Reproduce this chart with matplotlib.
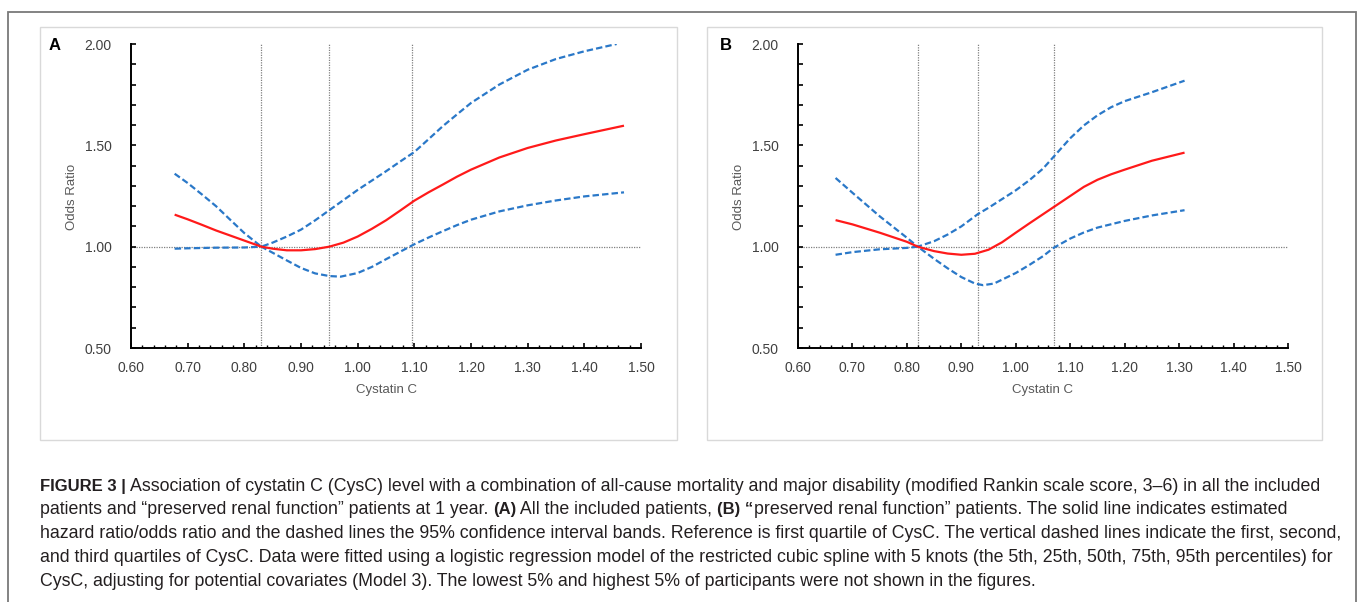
import matplotlib
matplotlib.use("Agg")
import matplotlib.pyplot as plt
from matplotlib.patches import Rectangle
from matplotlib.ticker import MultipleLocator, FormatStrFormatter

plt.rcParams['font.family'] = ['Liberation Sans', 'DejaVu Sans']

# ---------------- data ----------------
# Panel A: all included patients
a_x_est = [0.677, 0.70, 0.725, 0.75, 0.775, 0.80, 0.83, 0.85, 0.875, 0.90, 0.925, 0.95, 0.975,
           1.00, 1.025, 1.05, 1.075, 1.10, 1.125, 1.15, 1.175, 1.20, 1.25, 1.30, 1.35, 1.40, 1.47]
a_est = [1.158, 1.135, 1.108, 1.080, 1.055, 1.030, 1.000, 0.990, 0.982, 0.982, 0.988, 1.000, 1.020,
         1.050, 1.088, 1.130, 1.178, 1.227, 1.268, 1.306, 1.345, 1.380, 1.440, 1.487, 1.524, 1.555, 1.597]

a_x_up = [0.677, 0.70, 0.725, 0.75, 0.775, 0.80, 0.83, 0.85, 0.875, 0.90, 0.925, 0.95, 0.975,
          1.00, 1.025, 1.05, 1.075, 1.10, 1.125, 1.15, 1.175, 1.20, 1.25, 1.30, 1.35, 1.40, 1.457]
a_up = [1.360, 1.314, 1.258, 1.200, 1.133, 1.067, 1.000, 1.020, 1.050, 1.084, 1.130, 1.180, 1.230,
        1.280, 1.326, 1.372, 1.420, 1.467, 1.530, 1.594, 1.652, 1.709, 1.800, 1.873, 1.926, 1.964, 2.000]

a_x_lo = [0.677, 0.70, 0.75, 0.80, 0.83, 0.85, 0.875, 0.90, 0.925, 0.95, 0.97, 1.00, 1.025,
          1.05, 1.075, 1.10, 1.125, 1.15, 1.175, 1.20, 1.25, 1.30, 1.35, 1.40, 1.47]
a_lo = [0.990, 0.992, 0.995, 0.996, 1.000, 0.970, 0.932, 0.895, 0.868, 0.855, 0.852, 0.870, 0.900,
        0.938, 0.975, 1.012, 1.045, 1.076, 1.106, 1.133, 1.174, 1.204, 1.228, 1.248, 1.268]

a_quartiles = [0.83, 0.95, 1.095]

# Panel B: "preserved renal function" patients
b_x_est = [0.669, 0.70, 0.75, 0.80, 0.82, 0.85, 0.875, 0.90, 0.925, 0.95, 0.975, 1.00, 1.025,
           1.05, 1.07, 1.10, 1.125, 1.15, 1.175, 1.20, 1.25, 1.31]
b_est = [1.131, 1.110, 1.069, 1.024, 1.000, 0.978, 0.966, 0.960, 0.965, 0.985, 1.022, 1.069, 1.115,
         1.160, 1.196, 1.250, 1.295, 1.330, 1.357, 1.380, 1.424, 1.464]

b_x_up = [0.669, 0.70, 0.75, 0.80, 0.82, 0.85, 0.875, 0.90, 0.93, 0.95, 0.975, 1.00, 1.025,
          1.05, 1.07, 1.085, 1.10, 1.125, 1.15, 1.175, 1.20, 1.25, 1.31]
b_up = [1.339, 1.266, 1.150, 1.044, 1.000, 1.027, 1.060, 1.100, 1.160, 1.192, 1.235, 1.278, 1.328,
        1.385, 1.445, 1.490, 1.535, 1.598, 1.648, 1.688, 1.718, 1.762, 1.819]

b_x_lo = [0.669, 0.70, 0.75, 0.80, 0.82, 0.85, 0.875, 0.90, 0.925, 0.94, 0.96, 1.00, 1.025,
          1.05, 1.07, 1.10, 1.125, 1.15, 1.20, 1.25, 1.31]
b_lo = [0.960, 0.973, 0.987, 0.994, 1.000, 0.940, 0.893, 0.850, 0.818, 0.810, 0.818, 0.870, 0.910,
        0.953, 0.995, 1.040, 1.070, 1.094, 1.127, 1.154, 1.180]

b_quartiles = [0.82, 0.93, 1.07]

panel_letters = ["A", "B"]
x_label = "Cystatin C"
y_label = "Odds Ratio"

caption_lines = [
    [("FIGURE 3 | ", True), ("Association of cystatin C (CysC) level with a combination of all-cause mortality and major disability (modified Rankin scale score, 3\u20136) in all the included", False)],
    [("patients and \u201cpreserved renal function\u201d patients at 1 year. ", False), ("(A)", True), (" All the included patients, ", False), ("(B) \u201c", True), ("preserved renal function\u201d patients. The solid line indicates estimated", False)],
    [("hazard ratio/odds ratio and the dashed lines the 95% confidence interval bands. Reference is first quartile of CysC. The vertical dashed lines indicate the first, second,", False)],
    [("and third quartiles of CysC. Data were fitted using a logistic regression model of the restricted cubic spline with 5 knots (the 5th, 25th, 50th, 75th, 95th percentiles) for", False)],
    [("CysC, adjusting for potential covariates (Model 3). The lowest 5% and highest 5% of participants were not shown in the figures.", False)],
]

# ---------------- figure ----------------
W, H = 1360, 602
fig = plt.figure(figsize=(W / 100, H / 100), dpi=100)
fig.patch.set_facecolor("white")

def fx(px):
    return px / W

def fy(py):
    return 1 - py / H

# outer border (bottom extends off image)
fig.add_artist(Rectangle((fx(8), fy(640)), fx(1356) - fx(8), fy(12) - fy(640),
                         transform=fig.transFigure, fill=False, edgecolor="#7a7a7a", lw=1.3))
# panel boxes
for (l, r) in [(40, 677), (707, 1322)]:
    fig.add_artist(Rectangle((fx(l), fy(440)), fx(r) - fx(l), fy(27) - fy(440),
                             transform=fig.transFigure, fill=False, edgecolor="#d9d9d9", lw=1.0))

RED = "#ff1a1a"
BLUE = "#2a78c8"
GRAY = "#808080"

panels = [
    (131, 641, a_x_est, a_est, a_x_up, a_up, a_x_lo, a_lo, a_quartiles, 55, 72, 386),
    (798, 1288, b_x_est, b_est, b_x_up, b_up, b_x_lo, b_lo, b_quartiles, 726, 739, 1043),
]

for i, (l, r, xe, ye, xu, yu, xl, yl, qs, letter_x, ylab_x, xlab_x) in enumerate(panels):
    ax = fig.add_axes([fx(l), fy(348), fx(r) - fx(l), fy(44) - fy(348)])
    ax.set_xlim(0.6, 1.5)
    ax.set_ylim(0.5, 2.0)
    for s in ["top", "right"]:
        ax.spines[s].set_visible(False)
    for s in ["left", "bottom"]:
        ax.spines[s].set_linewidth(1.4)
        ax.spines[s].set_color("black")
    ax.patch.set_alpha(0)

    # reference lines
    ax.axhline(1.0, color=GRAY, lw=0.9, ls=(0, (1, 1)), zorder=1)
    for q in qs:
        ax.axvline(q, color=GRAY, lw=0.9, ls=(0, (1, 1)), zorder=1)

    ax.plot(xu, yu, color=BLUE, lw=1.6, ls=(0, (2.9, 1.4)), zorder=3)
    ax.plot(xl, yl, color=BLUE, lw=1.6, ls=(0, (2.9, 1.4)), zorder=3)
    ax.plot(xe, ye, color=RED, lw=1.6, zorder=4, solid_capstyle="butt")

    ax.xaxis.set_major_locator(MultipleLocator(0.1))
    ax.xaxis.set_minor_locator(MultipleLocator(0.02))
    ax.xaxis.set_major_formatter(FormatStrFormatter("%.2f"))
    ax.yaxis.set_major_locator(MultipleLocator(0.5))
    ax.yaxis.set_minor_locator(MultipleLocator(0.1))
    ax.yaxis.set_major_formatter(FormatStrFormatter("%.2f"))
    ax.tick_params(axis="x", which="major", direction="in", length=3.5, width=1.2,
                   labelsize=10, labelcolor="#404040", pad=9)
    ax.tick_params(axis="x", which="minor", direction="in", length=2.2, width=1.0)
    ax.tick_params(axis="y", which="both", direction="in", length=3.5, width=1.2,
                   labelsize=10, labelcolor="#404040", pad=14)

    fig.text(fx(letter_x), fy(45), panel_letters[i], fontsize=12, fontweight="bold",
             ha="center", va="center", color="black")
    fig.text(fx(ylab_x), fy(197), y_label, rotation=90, fontsize=9.5, color="#595959",
             ha="center", va="center")
    fig.text(fx(xlab_x), fy(390), x_label, fontsize=9.5, color="#595959",
             ha="center", va="center")

# caption
renderer = fig.canvas.get_renderer()
cap_base = [491, 514, 538, 562, 586]
for line, py in zip(caption_lines, cap_base):
    xpx = 40
    for txt, bold in line:
        t = fig.text(fx(xpx), fy(py), txt, fontsize=12.0 if bold else 12.75, color="#231f20",
                     fontweight="bold" if bold else "normal", ha="left", va="baseline")
        bb = t.get_window_extent(renderer=renderer)
        xpx += bb.width

fig.savefig("out.png", dpi=100, facecolor="white")
